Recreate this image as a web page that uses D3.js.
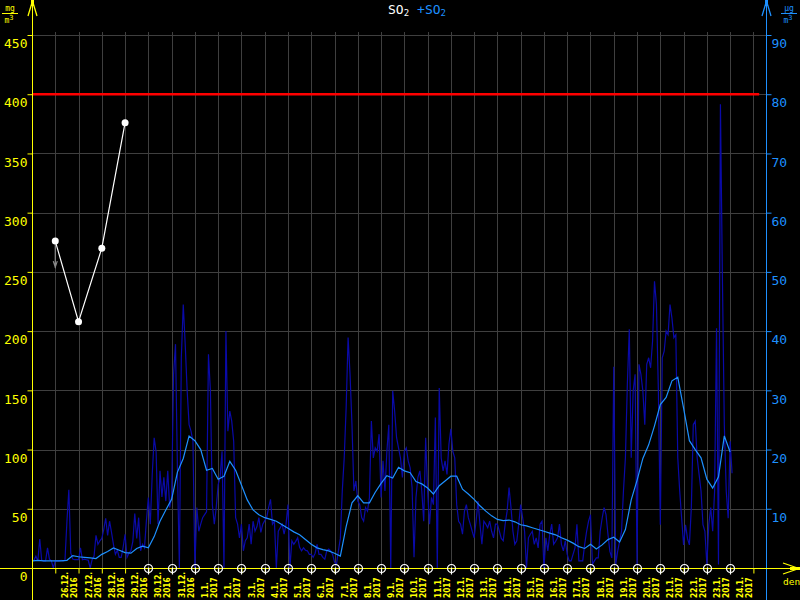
<!DOCTYPE html>
<html><head><meta charset="utf-8">
<script src="https://cdn.jsdelivr.net/npm/d3@7"></script>
<style>body{margin:0;background:#000;}svg{display:block;}</style>
</head><body><svg id="c" width="800" height="600"></svg>
<script>
// ---------- data ----------
const leftTicks = [0, 50, 100, 150, 200, 250, 300, 350, 400, 450];
const rightTicks = [10, 20, 30, 40, 50, 60, 70, 80, 90];
const limitValue = 400;
const dayLabels = [
  ["26.12.","2016"],["27.12.","2016"],["28.12.","2016"],["29.12.","2016"],["30.12.","2016"],["31.12.","2016"],
  ["1.1.","2017"],["2.1.","2017"],["3.1.","2017"],["4.1.","2017"],["5.1.","2017"],["6.1.","2017"],["7.1.","2017"],
  ["8.1.","2017"],["9.1.","2017"],["10.1.","2017"],["11.1.","2017"],["12.1.","2017"],["13.1.","2017"],["14.1.","2017"],
  ["15.1.","2017"],["16.1.","2017"],["17.1.","2017"],["18.1.","2017"],["19.1.","2017"],["20.1.","2017"],["21.1.","2017"],
  ["22.1.","2017"],["23.1.","2017"],["24.1.","2017"]
];
const so2Dates = ["2016-12-26", "2016-12-27", "2016-12-28", "2016-12-29"];
const so2Values = [276, 208, 270, 376];
const markerDates = ["2016-12-30","2016-12-31","2017-01-01","2017-01-02","2017-01-03","2017-01-04","2017-01-05",
  "2017-01-06","2017-01-07","2017-01-08","2017-01-09","2017-01-10","2017-01-11","2017-01-12","2017-01-13",
  "2017-01-14","2017-01-15","2017-01-16","2017-01-17","2017-01-18","2017-01-19","2017-01-20","2017-01-21",
  "2017-01-22","2017-01-23","2017-01-24"];
const seriesStart = "2016-12-25";
const hourlyStepH = 2;
const hourlyValues = [
  1.2,1.3,2.0,1.2,4.9,1.3,1.2,1.2,3.4,1.5,1.2,0,
  1.2,1.2,1.2,1.3,1.2,1.3,7.8,13.2,2.5,1.5,1.4,1.4,
  1.4,3.4,1.4,1.5,1.4,1.3,0,1.4,2.0,5.5,4.0,4.6,
  5.0,6.5,8.4,5.5,7.9,6.0,4.0,2.3,3.0,1.8,1.8,3.5,
  5.7,1.8,2.5,2.9,4.5,9.2,5.0,8.5,2.9,4.0,3.4,8.0,
  11.9,7.4,15.8,22.0,19.6,7.4,16.4,12.0,15.3,11.3,16.4,10.2,
  12.0,32.7,37.8,16.4,0,35.5,44.5,37.8,30.0,24.2,23.1,21.4,
  0,10.2,6.2,7.4,8.5,9.0,9.5,36.1,29.9,10.7,7.4,10.2,
  14.1,15.3,19.7,0,40.0,23.1,26.5,24.8,21.4,8.5,7.4,5.1,
  7.4,2.9,4.6,5.1,7.4,4.0,7.9,6.2,7.0,8.5,6.0,7.4,
  8.0,8.5,10.2,11.6,7.4,7.9,0,6.2,6.8,7.4,5.7,7.4,
  10.7,0,4.6,4.0,4.5,5.1,3.5,2.9,3.4,3.0,2.9,2.3,
  2.3,1.8,2.5,4.0,2.3,2.3,1.8,1.5,2.9,3.2,2.9,2.3,
  1.0,0.6,2.9,5.0,13.0,18.6,27.1,38.9,32.7,24.2,13.0,14.7,
  11.3,10.7,8.5,7.9,10.2,9.6,11.9,24.8,18.6,20.3,19.7,22.6,
  11.9,18.1,13.0,19.7,24.2,0,29.9,26.5,22.0,20.3,18.6,15.3,
  19.7,20.3,18.1,16.9,13.6,1.8,11.9,15.3,16.4,13.0,7.9,22.0,
  13.0,7.4,11.9,10.7,25.4,0,30.4,18.6,16.4,18.1,15.8,20.9,
  23.5,19.7,18.6,10.7,7.9,7.4,5.7,9.6,10.7,8.5,7.4,6.2,
  5.1,7.9,11.3,7.4,4.0,7.9,7.4,6.8,7.9,6.2,5.1,7.4,
  7.4,6.2,5.0,4.6,7.4,9.6,13.6,10.2,6.2,4.0,4.6,7.4,
  10.7,8.5,6.2,0,5.1,5.7,6.2,4.0,5.1,3.4,7.4,7.9,
  0,5.1,2.9,5.7,7.4,4.0,4.5,5.1,7.4,4.0,2.9,4.6,
  2.3,1.2,1.2,2.3,3.4,7.4,1.2,1.2,1.2,4.0,6.2,7.9,
  9.0,0.6,1.2,1.7,1.7,6.2,8.4,10.2,9.0,5.7,2.8,1.7,
  34.0,0.6,2.8,4.5,6.2,13.0,18.6,31.0,40.3,18.6,29.9,32.7,
  0.6,34.4,32.7,29.9,24.2,34.4,35.5,33.8,38.3,48.4,44.5,29.9,
  7.3,35.5,36.6,40.0,39.4,44.5,42.2,38.9,39.4,18.6,13.0,8.4,
  3.9,7.3,5.0,3.9,10.2,24.2,24.8,18.6,15.8,13.0,7.3,6.2,
  0.6,7.3,10.2,6.2,13.0,40.5,0.6,78.3,49.5,24.2,13.0,8.4,
  21.4,16.0
];
const smoothStepH = 6;
const smoothValues = [
  1.2,1.3,1.2,1.2,1.2,1.2,1.3,2.1,1.9,1.8,1.7,1.6,2.3,2.8,3.4,3.0,2.6,2.5,3.3,3.7,
  3.4,5.3,7.9,9.8,11.6,16.2,18.5,22.3,21.5,20.0,16.5,16.8,15.0,15.5,18.0,16.5,14.0,11.5,9.8,9.0,
  8.5,8.2,7.9,7.3,6.7,6.1,5.6,4.8,4.0,3.4,3.1,2.9,2.5,2.0,7.0,11.0,12.2,11.0,11.0,12.8,
  14.3,15.6,15.2,17.0,16.4,16.1,14.6,14.2,13.5,12.5,13.9,14.7,15.5,15.5,13.3,12.5,11.6,10.5,9.6,8.8,
  8.2,8.0,8.1,7.8,7.3,7.1,6.8,6.5,6.2,5.9,5.6,5.1,4.7,4.2,3.6,3.3,4.0,3.2,3.9,4.8,
  5.2,4.4,6.5,11.5,14.8,18.5,20.8,24.0,27.6,28.8,31.6,32.2,27.0,21.5,20.0,18.6,15.0,13.5,15.4,22.3,
  19.6
];

// ---------- scales ----------
const svg = d3.select("#c");
const W = 800, H = 600;
const parse = d3.timeParse("%Y-%m-%d");
const t0 = parse(seriesStart);
const x = d3.scaleTime().domain([t0, d3.timeHour.offset(t0, 757)]).range([32, 766]);
const yL = d3.scaleLinear().domain([0, 450]).range([568, 35]);
const yR = d3.scaleLinear().domain([0, 90]).range([568, 35]);
const YEL = "#ffff00", BLUE = "#1e90ff", GRID = "#3f3f3f";
const crisp = v => Math.round(v) + 0.5;

svg.append("rect").attr("width", W).attr("height", H).attr("fill", "#000");

// day boundaries
const dayStarts = d3.range(1, 32).map(i => d3.timeDay.offset(t0, i)); // 26.12 .. 25.1

// grid
const grid = svg.append("g");
grid.selectAll("line.v").data(dayStarts).join("line")
  .attr("x1", d => crisp(x(d))).attr("x2", d => crisp(x(d)))
  .attr("y1", 32).attr("y2", 568).attr("stroke", GRID);
grid.selectAll("line.h").data(leftTicks.filter(v => v > 0)).join("line")
  .attr("x1", 32).attr("x2", 766)
  .attr("y1", d => crisp(yL(d))).attr("y2", d => crisp(yL(d))).attr("stroke", GRID);

// limit line
svg.append("line").attr("x1", 32).attr("x2", x(d3.timeHour.offset(t0, 750)))
  .attr("y1", yL(limitValue)).attr("y2", yL(limitValue))
  .attr("stroke", "#ff0000").attr("stroke-width", 2.5);

// hourly series
const clip = svg.append("clipPath").attr("id", "pc").append("rect")
  .attr("x", 33).attr("y", 0).attr("width", 733).attr("height", 568);
const hourly = hourlyValues.map((v, i) => ({t: d3.timeHour.offset(t0, i * hourlyStepH), v}));
const smooth = smoothValues.map((v, i) => ({t: d3.timeHour.offset(t0, i * smoothStepH), v}));
const lineR = d3.line().x(d => x(d.t)).y(d => yR(d.v));
svg.append("path").datum(hourly).attr("d", lineR).attr("fill", "none")
  .attr("stroke", "#0a0aa8").attr("stroke-width", 1.2).attr("clip-path", "url(#pc)");
svg.append("path").datum(smooth).attr("d", lineR).attr("fill", "none")
  .attr("stroke", BLUE).attr("stroke-width", 1.2).attr("clip-path", "url(#pc)");

// white SO2 series
const so2 = so2Dates.map((d, i) => ({t: parse(d), v: so2Values[i]}));
const lineL = d3.line().x(d => x(d.t)).y(d => yL(d.v));
svg.append("path").datum(so2).attr("d", lineL).attr("fill", "none").attr("stroke", "#fff").attr("stroke-width", 1.2);
// small grey arrow under first point
const p0 = so2[0];
svg.append("path")
  .attr("d", `M${x(p0.t)},${yL(p0.v)+3} V${yL(p0.v)+27} M${x(p0.t)-2},${yL(p0.v)+20} L${x(p0.t)},${yL(p0.v)+26} L${x(p0.t)+2},${yL(p0.v)+20}`)
  .attr("stroke", "#8a8a8a").attr("fill", "none").attr("stroke-width", 1.2);
svg.selectAll("circle.so2").data(so2).join("circle")
  .attr("cx", d => x(d.t)).attr("cy", d => yL(d.v)).attr("r", 3.5).attr("fill", "#fff");

// ---------- axes ----------
const FONT = "'DejaVu Sans Mono', monospace";
// left axis
const gL = svg.append("g").attr("transform", "translate(32.5,0)")
  .call(d3.axisLeft(yL).tickValues(leftTicks).tickSize(5).tickPadding(0).tickSizeOuter(0));
gL.select(".domain").remove();
gL.selectAll(".tick line").attr("stroke", YEL);
gL.selectAll(".tick text").attr("fill", YEL).attr("font-family", FONT).attr("font-size", 13).attr("dy", "0.98em");
svg.append("line").attr("x1", 32.5).attr("x2", 32.5).attr("y1", 0).attr("y2", 600).attr("stroke", YEL);
svg.append("path").attr("d", "M28,16 L32.5,1 L37,16").attr("stroke", YEL).attr("fill", "none").attr("stroke-width", 1.3);
svg.append("rect").attr("x", 31).attr("y", 0).attr("width", 3).attr("height", 6).attr("fill", YEL);

// right axis
const gR = svg.append("g").attr("transform", "translate(766.5,0)")
  .call(d3.axisRight(yR).tickValues(rightTicks).tickSize(5).tickPadding(0).tickSizeOuter(0));
gR.select(".domain").remove();
gR.selectAll(".tick line").attr("stroke", BLUE);
gR.selectAll(".tick text").attr("fill", BLUE).attr("font-family", FONT).attr("font-size", 13).attr("dy", "0.98em");
svg.append("line").attr("x1", 766.5).attr("x2", 766.5).attr("y1", 0).attr("y2", 600).attr("stroke", BLUE);
svg.append("path").attr("d", "M762,16 L766.5,1 L771,16").attr("stroke", BLUE).attr("fill", "none").attr("stroke-width", 1.3);
svg.append("rect").attr("x", 765).attr("y", 0).attr("width", 3).attr("height", 6).attr("fill", BLUE);

// bottom axis
const gB = svg.append("g").attr("transform", "translate(0,568.5)")
  .call(d3.axisBottom(x).tickValues(dayStarts).tickSize(5).tickFormat(""));
gB.select(".domain").remove();
gB.selectAll(".tick line").attr("stroke", YEL);
svg.append("line").attr("x1", 0).attr("x2", 798).attr("y1", 568.5).attr("y2", 568.5).attr("stroke", YEL);
svg.append("path").attr("d", "M783,563 L799,568.5 L783,574").attr("stroke", YEL).attr("fill", "none").attr("stroke-width", 1.3);
svg.append("rect").attr("x", 790).attr("y", 567).attr("width", 10).attr("height", 3).attr("fill", YEL);
svg.append("text").attr("x", 783).attr("y", 585).attr("fill", YEL).attr("font-family", FONT).attr("font-size", 9.5).text("den");

// markers on axis
const mk = svg.append("g").selectAll("g").data(markerDates.map(parse)).join("g")
  .attr("transform", d => `translate(${crisp(x(d))},568.5)`);
mk.append("circle").attr("r", 4).attr("fill", "none").attr("stroke", "#fff").attr("stroke-width", 1.2);
mk.append("line").attr("y1", -1).attr("y2", 6).attr("stroke", "#fff").attr("stroke-width", 1.2);

// day labels
const lab = svg.append("g").selectAll("g").data(dayLabels).join("g")
  .attr("transform", (d, i) => `translate(${x(d3.timeHour.offset(dayStarts[i], 12))},598) rotate(-90) scale(0.82,1)`);
lab.append("text").attr("x", 0).attr("y", 1.5).attr("fill", YEL).attr("font-family", "'DejaVu Sans', sans-serif")
  .attr("font-size", 9).attr("font-weight", "bold").text(d => d[0]);
lab.append("text").attr("x", 0).attr("y", 10.5).attr("fill", YEL).attr("font-family", "'DejaVu Sans', sans-serif")
  .attr("font-size", 9).attr("font-weight", "bold").text(d => d[1]);

// title
const title = svg.append("text").attr("x", 388).attr("y", 14).attr("font-family", FONT).attr("font-size", 13);
title.append("tspan").attr("fill", "#fff").text("SO");
title.append("tspan").attr("fill", "#fff").attr("font-size", 9).attr("dy", 2).text("2");
title.append("tspan").attr("fill", BLUE).attr("dy", -2).attr("dx", 8).text("+SO");
title.append("tspan").attr("fill", BLUE).attr("font-size", 9).attr("dy", 2).text("2");

// units
function unit(xc, top, color, numer) {
  const g = svg.append("g").attr("fill", color).attr("font-family", FONT).attr("font-size", 8);
  g.append("text").attr("x", xc).attr("y", top + 6).attr("text-anchor", "middle").text(numer);
  svg.append("line").attr("x1", xc - 8).attr("x2", xc + 8).attr("y1", top + 8.5).attr("y2", top + 8.5).attr("stroke", color);
  const t = g.append("text").attr("x", xc - 1).attr("y", top + 18).attr("text-anchor", "middle");
  t.append("tspan").text("m");
  t.append("tspan").attr("dy", -3).attr("font-size", 7).text("3");
}
unit(10, 5, YEL, "mg");
unit(789, 5, BLUE, "µg");
</script></body></html>
